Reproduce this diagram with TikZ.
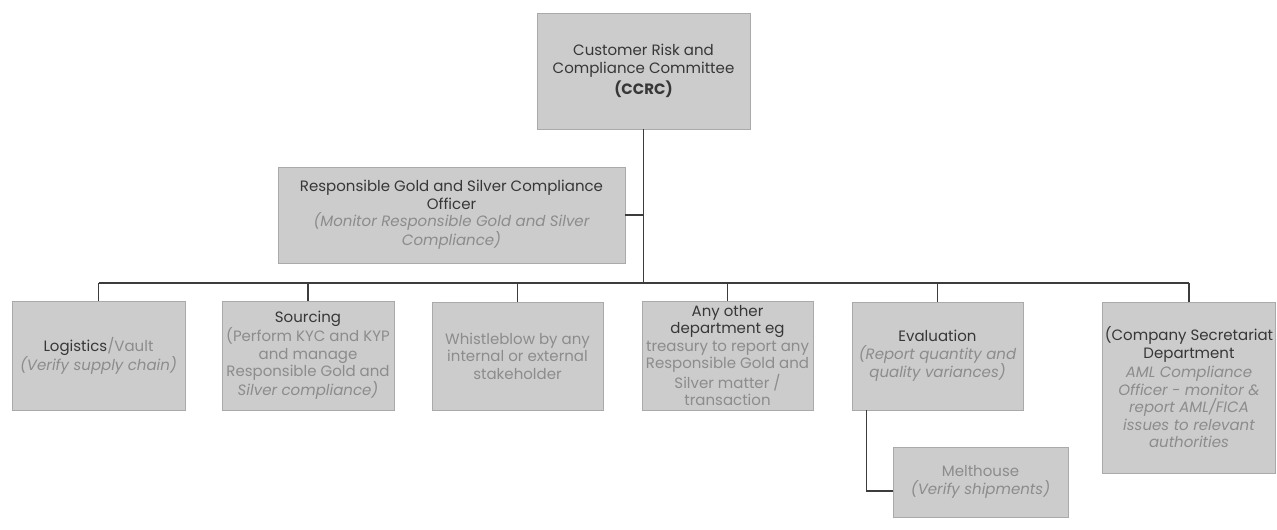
\documentclass[tikz,border=0pt]{standalone}
\usepackage{fontspec}
\setmainfont{Poppins}
\usetikzlibrary{calc}
\definecolor{boxfill}{RGB}{204,204,204}
\definecolor{boxline}{RGB}{170,170,170}
\definecolor{titlec}{RGB}{55,55,55}
\definecolor{descc}{RGB}{140,140,140}
\definecolor{linec}{RGB}{60,60,60}
\begin{document}
\begin{tikzpicture}[x=1pt,y=-1pt,
  box/.style={draw=boxline,fill=boxfill,line width=0.8pt,inner sep=2pt,align=center,
    font=\fontsize{15}{17.5}\selectfont,text=titlec}]
\useasboundingbox (0,0) rectangle (1277,530);
\node[box,minimum width=213pt,minimum height=116pt] (ccrc) at (643.5,71)
  {Customer Risk and\\Compliance Committee\\[3pt]\textbf{(CCRC)}};
\node[box,minimum width=347pt,minimum height=96pt] (rg) at (451.5,215)
  {Responsible Gold and Silver Compliance\\Officer\\{\color{descc}\itshape (Monitor Responsible Gold and Silver}\\{\color{descc}\itshape Compliance)}};
\node[box,minimum width=173pt,minimum height=109pt] (log) at (98.5,355.5)
  {Logistics{\color{descc}/Vault}\\{\color{descc}\itshape (Verify supply chain)}};
\node[box,minimum width=172pt,minimum height=109pt] (src) at (308,355.5)
  {Sourcing\\{\color{descc}(Perform KYC and KYP}\\{\color{descc}and manage}\\{\color{descc}Responsible Gold and}\\{\color{descc}\itshape Silver compliance)}};
\node[box,minimum width=171pt,minimum height=108pt,text=descc] (wb) at (517.5,356)
  {Whistleblow by any\\internal or external\\stakeholder};
\node[box,minimum width=171pt,minimum height=109pt] (any) at (727.5,355.5)
  {Any other\\department eg\\{\color{descc}treasury to report any}\\{\color{descc}Responsible Gold and}\\{\color{descc}Silver matter /}\\{\color{descc}transaction}};
\node[box,minimum width=171pt,minimum height=108pt] (eval) at (937.5,356)
  {Evaluation\\{\color{descc}\itshape (Report quantity and}\\{\color{descc}\itshape quality variances)}};
\node[box,minimum width=172pt,minimum height=171pt] (cs) at (1189,387.5)
  {(Company Secretariat\\Department\\[2pt]{\color{descc}\itshape AML Compliance}\\{\color{descc}\itshape Officer - monitor \&}\\{\color{descc}\itshape report AML/FICA}\\{\color{descc}\itshape issues to relevant}\\{\color{descc}\itshape authorities}};
\node[box,minimum width=175pt,minimum height=70pt,text=descc] (melt) at (980.5,482)
  {Melthouse\\{\itshape (Verify shipments)}};
% connectors
\tikzset{conn/.style={draw=linec,line width=1.4pt}}
\coordinate (bus) at (0,283);
\draw[conn] (ccrc.south) -- (ccrc.south |- bus);
\draw[conn] (rg.east) -- (ccrc.south |- rg.east);
\draw[conn] (log.north |- bus) -- (cs.north |- bus);
\foreach \n in {log,src,wb,any,eval,cs}
  \draw[conn] (\n.north |- bus) -- (\n.north);
\coordinate (ej) at ($(eval.south west)+(15,0)$);
\coordinate (mj) at ($(melt.west)+(0,9)$);
\draw[conn] (ej) |- (mj);
\end{tikzpicture}
\end{document}
